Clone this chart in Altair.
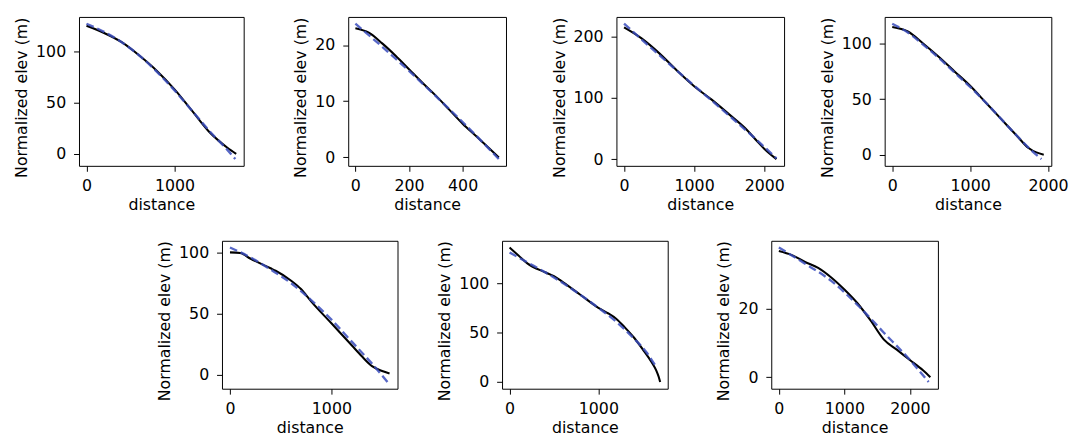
import altair as alt
import pandas as pd

# ---- data (distance, normalized elevation) ----
p1_dist = [0, 200, 400, 600, 800, 1000, 1200, 1400, 1500, 1600, 1700]
p1_elev = [125, 118, 109, 96, 81, 63, 42, 21, 13, 6, 0]
p1_fit_dist = [0, 200, 400, 600, 800, 1000, 1200, 1400, 1600, 1690]
p1_fit_elev = [127, 119, 109, 96, 80, 62, 42, 22, 4, -5]

p2_dist = [0, 50, 100, 150, 200, 250, 300, 350, 400, 450, 500, 535]
p2_elev = [23, 22.2, 20.3, 18.1, 15.7, 13.3, 11, 8.5, 6, 3.8, 1.6, 0]
p2_fit_dist = [0, 100, 200, 300, 400, 535]
p2_fit_elev = [23.8, 19.7, 15.4, 10.9, 6.3, -0.3]

p3_dist = [0, 250, 500, 750, 1000, 1250, 1500, 1750, 1900, 2000, 2175]
p3_elev = [215, 197, 173, 145, 119, 97, 73, 48, 29, 17, 0]
p3_fit_dist = [0, 500, 1000, 1500, 2000, 2175]
p3_fit_elev = [221, 170, 120, 71, 20, 1]

p4_dist = [0, 200, 400, 600, 800, 1000, 1200, 1400, 1600, 1750, 1850, 1945]
p4_elev = [115, 111, 100, 88, 75, 62, 47, 32, 17, 6, 2, 0]
p4_fit_dist = [0, 200, 400, 600, 800, 1000, 1200, 1400, 1600, 1800, 1915]
p4_fit_elev = [118, 110, 99, 87, 74, 61, 47, 32, 17, 3, -4]

p5_dist = [0, 100, 200, 400, 450, 600, 700, 800, 1000, 1200, 1300, 1400, 1500, 1573]
p5_elev = [100, 99.5, 95, 87, 85, 77, 70, 60, 42, 24, 15, 7, 3, 1]
p5_fit_dist = [0, 200, 400, 600, 800, 1000, 1200, 1400, 1553]
p5_fit_elev = [104, 96, 86, 75, 61, 45, 27, 9, -6]

p6_dist = [0, 100, 200, 400, 500, 600, 800, 1000, 1100, 1200, 1300, 1400, 1500, 1600, 1650, 1680, 1696]
p6_elev = [136, 128, 120, 111, 107, 101, 88, 75, 70, 64, 55, 45, 33, 20, 12, 5, 0]
p6_fit_dist = [0, 200, 400, 600, 800, 1000, 1200, 1400, 1550, 1652]
p6_fit_elev = [131, 121, 111, 100, 88, 75, 61, 44, 29, 15]

p7_dist = [0, 200, 400, 600, 800, 1000, 1200, 1400, 1600, 1800, 2000, 2200, 2312]
p7_elev = [36.7, 35.5, 33.5, 31.8, 29, 25.5, 21.5, 16.5, 11, 8, 5, 2, 0]
p7_fit_dist = [0, 400, 800, 1200, 1600, 2000, 2286]
p7_fit_elev = [37.7, 33, 28, 21, 13, 5, -1.4]

x_ticks = [[0, 1000], [0, 200, 400], [0, 1000, 2000], [0, 1000, 2000],
           [0, 1000], [0, 1000], [0, 1000, 2000]]
y_ticks = [[0, 50, 100], [0, 10, 20], [0, 100, 200], [0, 50, 100],
           [0, 50, 100], [0, 50, 100], [0, 20]]

series = [
    (p1_dist, p1_elev, p1_fit_dist, p1_fit_elev),
    (p2_dist, p2_elev, p2_fit_dist, p2_fit_elev),
    (p3_dist, p3_elev, p3_fit_dist, p3_fit_elev),
    (p4_dist, p4_elev, p4_fit_dist, p4_fit_elev),
    (p5_dist, p5_elev, p5_fit_dist, p5_fit_elev),
    (p6_dist, p6_elev, p6_fit_dist, p6_fit_elev),
    (p7_dist, p7_elev, p7_fit_dist, p7_fit_elev),
]

widths = [167, 160, 170, 169, 178, 168, 169]
heights = [151, 151, 151, 151, 150, 150, 150]


def padded(vals):
    lo, hi = min(vals), max(vals)
    p = 0.05 * (hi - lo)
    return [lo - p, hi + p]


def panel(i):
    d, e, fd, fe = series[i]
    obs = pd.DataFrame({"distance": d, "elev": e})
    fit = pd.DataFrame({"distance": fd, "elev": fe})
    xdom = padded(d + fd)
    ydom = padded(e + fe)
    x = alt.X("distance:Q", title="distance",
              scale=alt.Scale(domain=xdom, nice=False, zero=False),
              axis=alt.Axis(values=x_ticks[i], format="d"))
    y = alt.Y("elev:Q", title="Normalized elev (m)",
              scale=alt.Scale(domain=ydom, nice=False, zero=False),
              axis=alt.Axis(values=y_ticks[i], format="d",
                            titleY=heights[i] / 2 + 6))
    line = alt.Chart(obs).mark_line(color="black", strokeWidth=2.1,
                                    interpolate="monotone").encode(x=x, y=y)
    dash = alt.Chart(fit).mark_line(color="#3a4cbc", strokeWidth=2.4, opacity=0.85,
                                    interpolate="monotone",
                                    strokeDash=[8, 4]).encode(x=x, y=y)
    return alt.layer(line, dash).properties(width=widths[i], height=heights[i])


spacer = alt.Chart(pd.DataFrame({"a": [0]})).mark_point(opacity=0).encode(
    x=alt.X("a:Q", axis=None), y=alt.Y("a:Q", axis=None)
).properties(width=77, height=1, view=alt.ViewBackground(stroke="transparent"))

top = alt.hconcat(
    alt.hconcat(panel(0), panel(1), spacing=48),
    alt.hconcat(panel(2), panel(3), spacing=34),
    spacing=44,
)
bottom = alt.hconcat(
    spacer,
    alt.hconcat(
        alt.hconcat(panel(4), panel(5), spacing=38),
        panel(6),
        spacing=47,
    ),
    spacing=0,
)

chart = alt.vconcat(top, bottom, spacing=25).configure_view(
    stroke="black", strokeWidth=1
).configure_axis(
    labelFont="DejaVu Sans", titleFont="DejaVu Sans",
    labelFontSize=16, titleFontSize=16, titleFontWeight="normal",
    labelColor="black", titleColor="black", tickColor="black",
    tickSize=5.5, grid=False, domain=False,
).configure_axisY(titlePadding=6, labelPadding=8).configure_axisX(
    titlePadding=3, labelPadding=7)

chart.save("out.html", embed_options={"renderer": "svg", "actions": False})
